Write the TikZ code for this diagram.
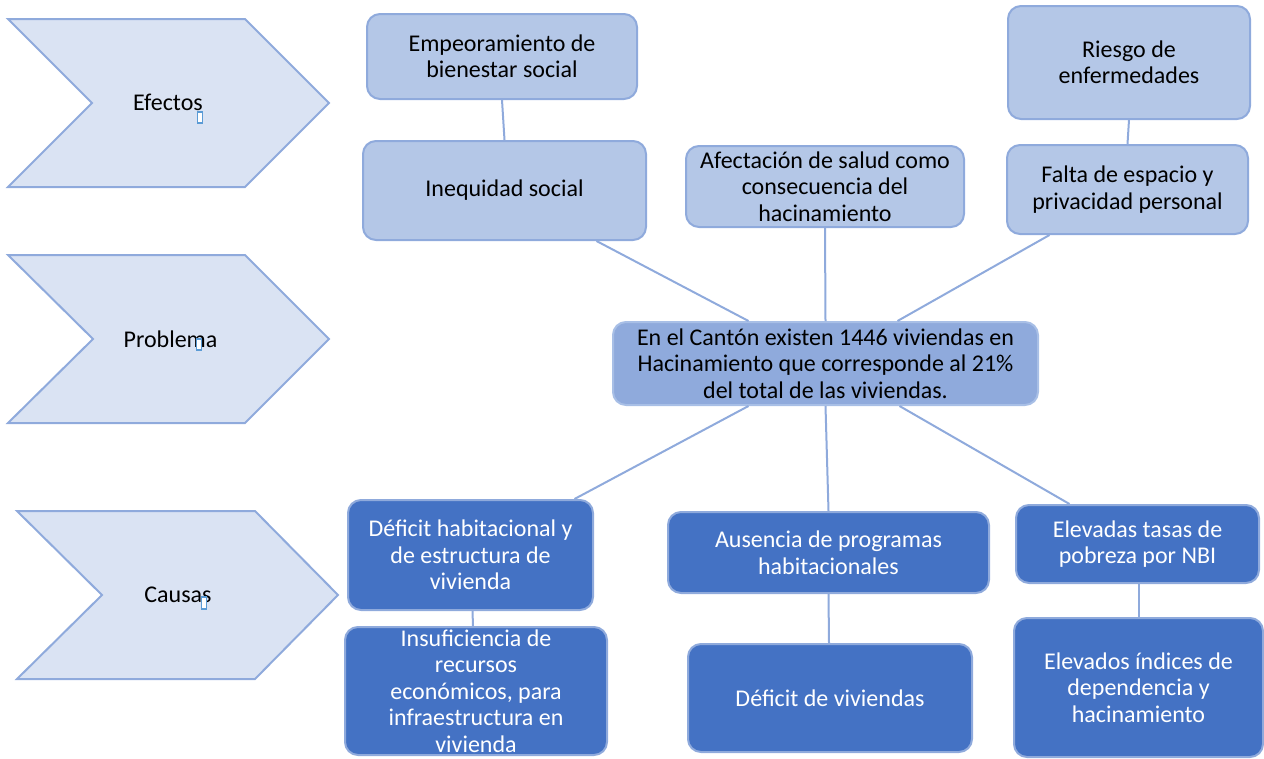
\documentclass[tikz,border=0pt]{standalone}
\usepackage{fontspec}
\setmainfont{Carlito}
\definecolor{chevfill}{HTML}{DAE3F3}
\definecolor{edge}{HTML}{8FAADC}
\definecolor{efffill}{HTML}{B4C7E7}
\definecolor{probfill}{HTML}{8FAADC}
\definecolor{probedge}{HTML}{A8BFE6}
\definecolor{causefill}{HTML}{4472C4}
\definecolor{cursor}{HTML}{5B9BD5}
\tikzset{
  chev/.style={draw=edge, fill=chevfill, line width=2pt, line join=miter},
  lbl/.style={font=\fontsize{24}{26.5}\selectfont, inner sep=0pt},
  box/.style={rounded corners=13pt, line width=2pt, inner sep=0pt, align=center,
     font=\fontsize{24}{26.5}\selectfont},
  effect/.style={box, draw=edge, fill=efffill, text=black},
  problem/.style={box, draw=probedge, fill=probfill, text=black},
  cause/.style={box, draw=edge, fill=causefill, text=white},
  conn/.style={draw=edge, line width=2pt},
  cur/.style={draw=cursor, fill=white, line width=1.2pt}
}
\begin{document}
\begin{tikzpicture}[x=1pt,y=-1pt]
\useasboundingbox (0,0) rectangle (1264,758);
% chevrons
\draw[chev] (8,19) -- (245,19) -- (329,103) -- (245,187) -- (8,187) -- (92,103) -- cycle;
\draw[chev] (8,255) -- (245,255) -- (329,339) -- (245,423) -- (8,423) -- (93,339) -- cycle;
\draw[chev] (17,511) -- (255,511) -- (338,595) -- (255,679) -- (17,679) -- (102,595) -- cycle;
\node[lbl, anchor=base] (lef) at (168,110) {Efectos};
\node[lbl, anchor=base] (lpr) at (170.5,347) {Problema};
\node[lbl, anchor=base] (lca) at (178,602) {Causas};
\draw[cur] (197.5,112) rectangle (202.5,123);
\draw[cur] (196.5,339) rectangle (201.5,350);
\draw[cur] (201.5,597) rectangle (206.5,609);

% connectors
\coordinate (k1) at (597,240);
\coordinate (k2) at (1050,234);

% effects
\node[effect, minimum width=270pt, minimum height=85pt] (e1) at (502,56.5) {Empeoramiento de\\bienestar social};
\node[effect, minimum width=283pt, minimum height=99pt] (e2) at (504.5,190.5) {Inequidad social};
\node[effect, minimum width=278pt, minimum height=81pt] (e3) at (825,186.5) {Afectación de salud como\\consecuencia del\\hacinamiento};
\node[effect, minimum width=242pt, minimum height=113pt] (e4) at (1129,62.5) {Riesgo de\\enfermedades};
\node[effect, minimum width=241pt, minimum height=89pt] (e5) at (1127.5,189.5) {Falta de espacio y\\privacidad personal};

% problem
\node[problem, minimum width=425pt, minimum height=83pt] (p) at (825.5,363.5) {En el Cantón existen 1446 viviendas en\\Hacinamiento que corresponde al 21\%\\del total de las viviendas.};

% causes
\node[cause, minimum width=245pt, minimum height=110pt] (c1) at (470.5,555) {Déficit habitacional y\\de estructura de\\vivienda};
\node[cause, minimum width=262pt, minimum height=128pt] (c2) at (476,691) {Insuficiencia de\\recursos\\económicos, para\\infraestructura en\\vivienda};
\node[cause, minimum width=321pt, minimum height=81pt] (c3) at (828.5,552.5) {Ausencia de programas\\habitacionales};
\node[cause, minimum width=284pt, minimum height=108pt] (c4) at (830,698) {Déficit de viviendas};
\node[cause, minimum width=243pt, minimum height=78pt] (c5) at (1137.5,544) {Elevadas tasas de\\pobreza por NBI};
\node[cause, minimum width=249pt, minimum height=139pt] (c6) at (1138.5,687.5) {Elevados índices de\\dependencia y\\hacinamiento};

\draw[conn] (e1.south) -- (e2.north);
\draw[conn] (e4.south) -- (e5.north);
\draw[conn] ([xshift=92pt]e2.south) -- ([xshift=-77pt]p.north);
\draw[conn] (e3.south) -- (p.north);
\draw[conn] ([xshift=-78pt]e5.south) -- ([xshift=72pt]p.north);
\draw[conn] ([xshift=-77pt]p.south) -- ([xshift=104pt]c1.north);
\draw[conn] (p.south) -- (c3.north);
\draw[conn] ([xshift=74pt]p.south) -- ([xshift=-68pt]c5.north);
\draw[conn] ([xshift=2pt]c1.south) -- ([xshift=-3pt]c2.north);
\draw[conn] (c3.south) -- ([xshift=-1pt]c4.north);
\draw[conn] ([xshift=1.5pt]c5.south) -- ([xshift=0.5pt]c6.north);
\end{tikzpicture}
\end{document}
